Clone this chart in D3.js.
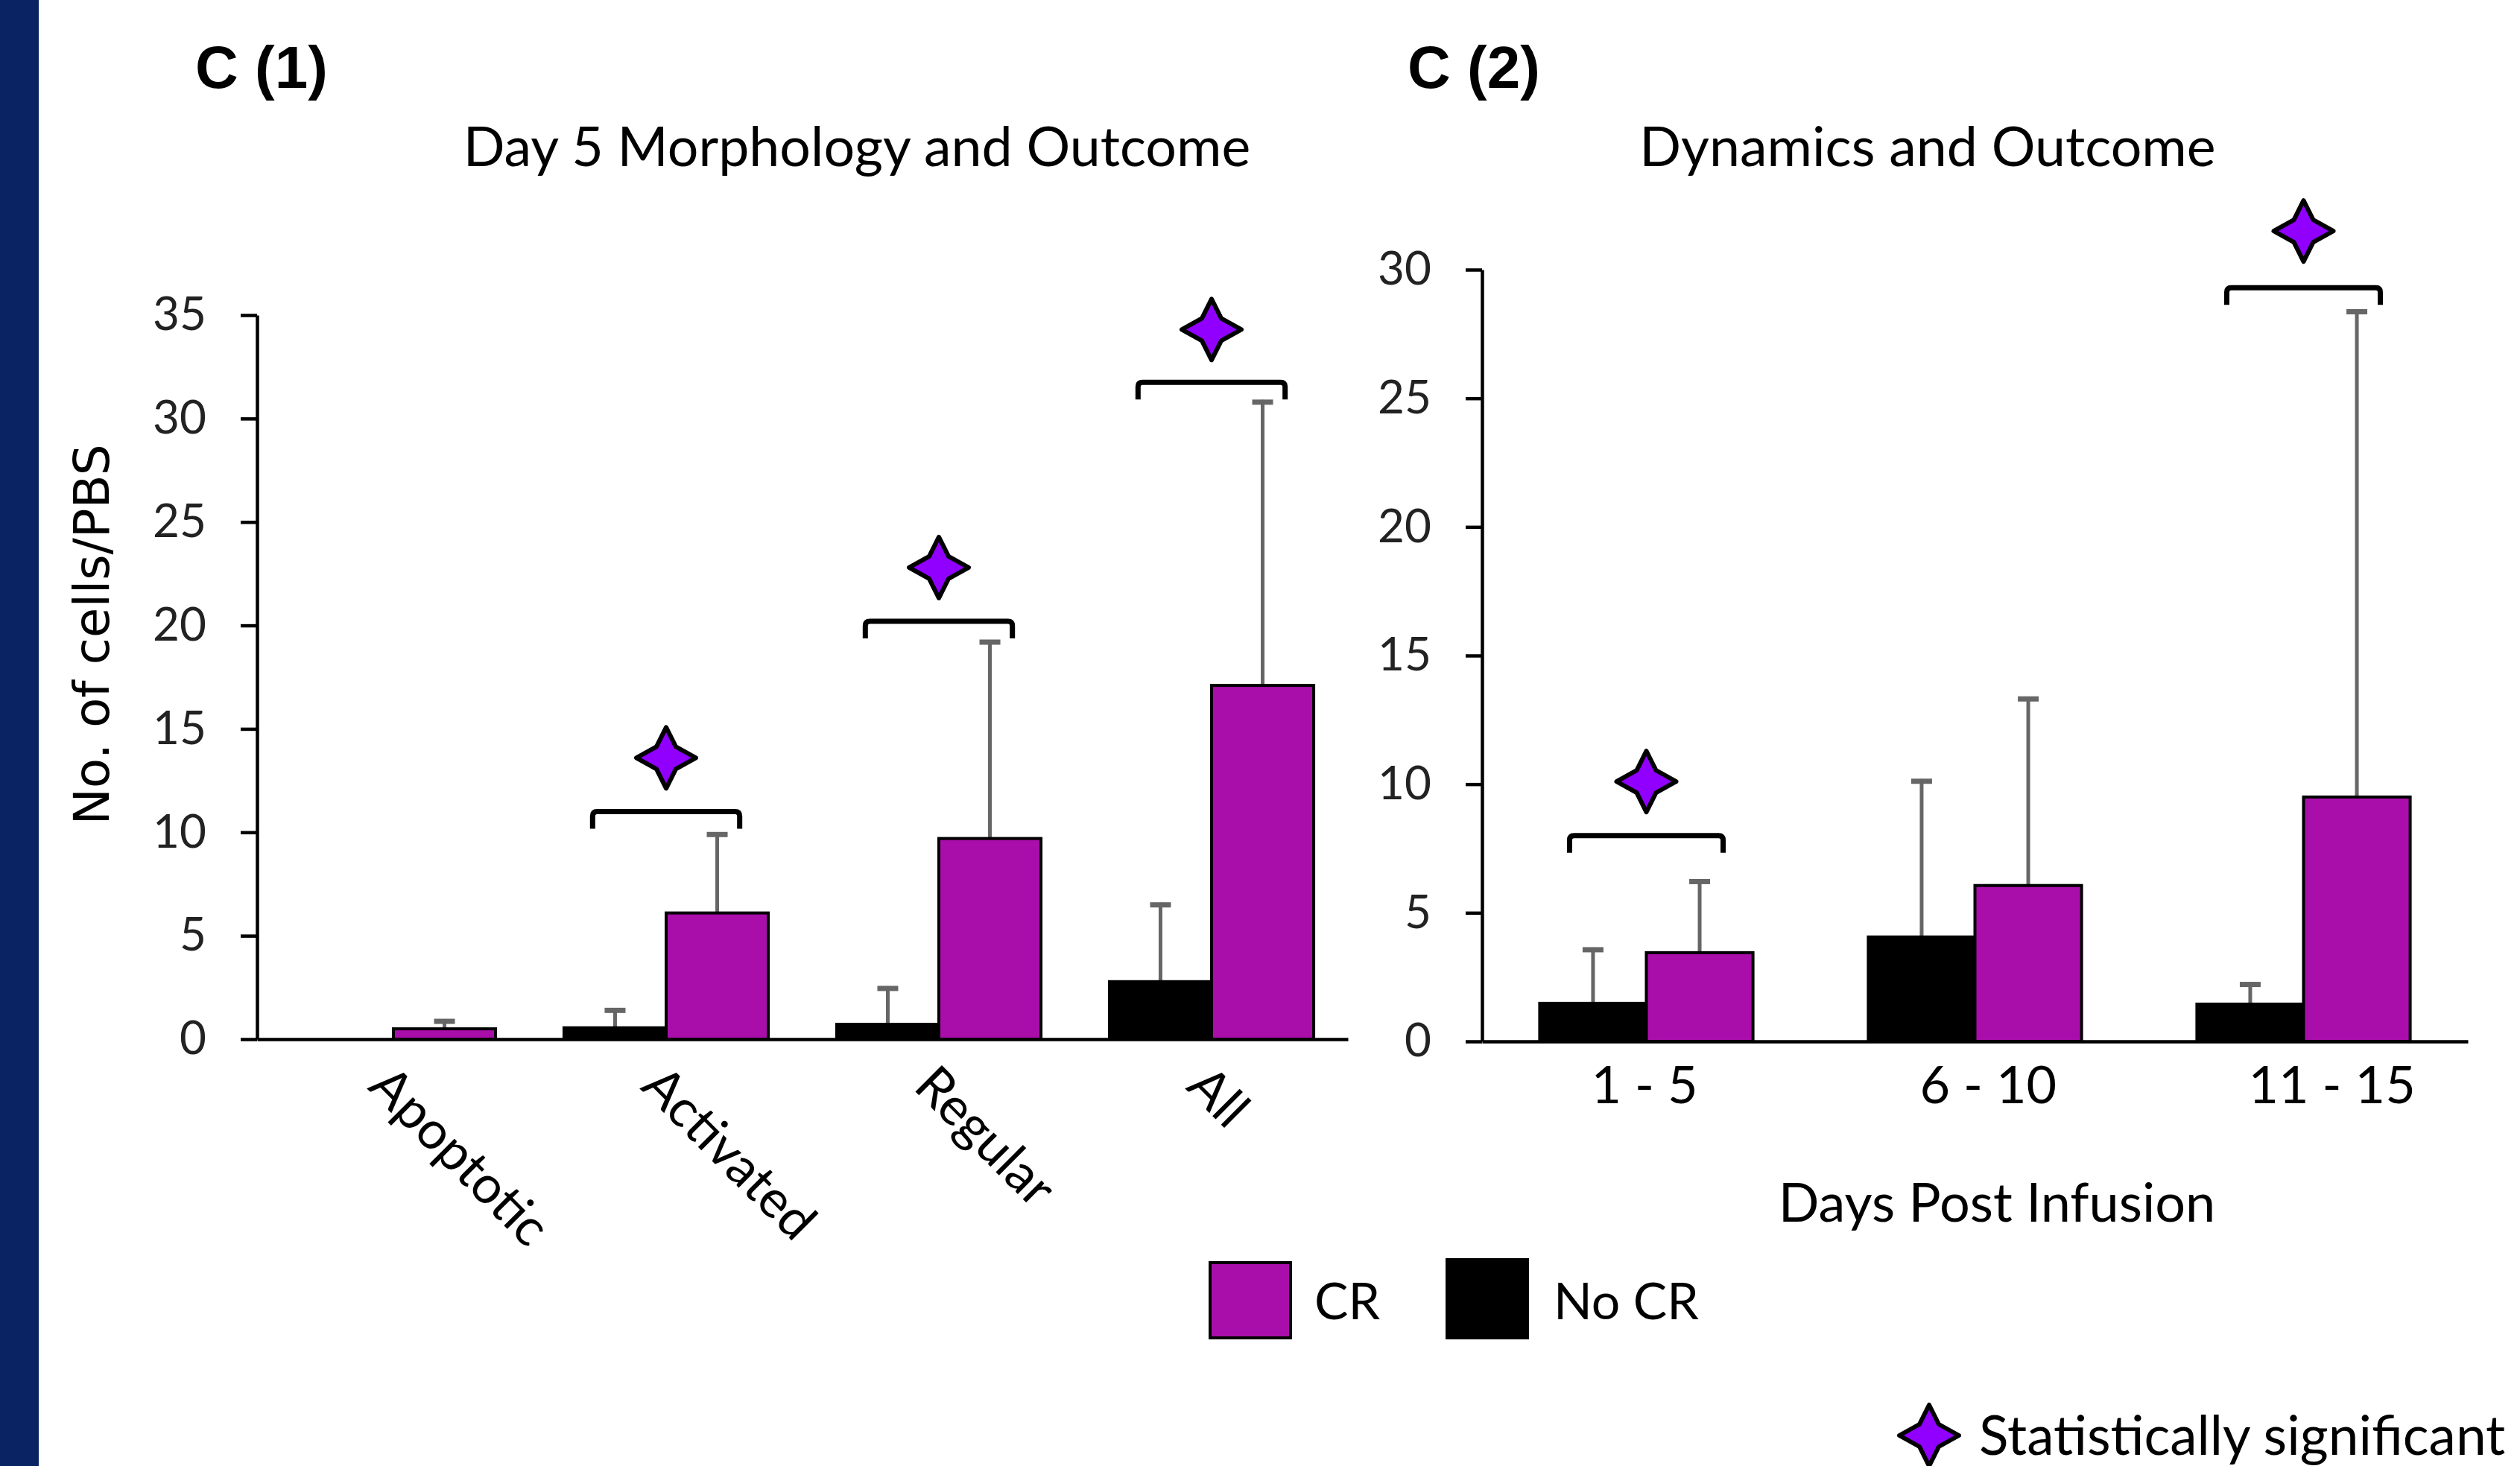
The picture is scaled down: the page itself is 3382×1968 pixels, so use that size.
<!DOCTYPE html>
<html><head><meta charset="utf-8">
<script src="https://cdn.jsdelivr.net/npm/d3@7"></script>
<style>html,body{margin:0;padding:0;background:#fff;} svg{display:block;}</style>
</head><body><svg id="chart" width="3382" height="1968"></svg>
<script>
// ---------- data ----------
const seriesNames = ["No CR", "CR"];

const morphCategories = ["Apoptotic", "Activated", "Regular", "All"];
const morphNoCR    = [0, 0.55, 0.72, 2.78];
const morphNoCRErr = [0, 0.95, 1.84, 3.82];
const morphCR      = [0.5, 6.1, 9.7, 17.1];
const morphCRErr   = [0.47, 3.9, 9.6, 13.8];
const morphYTicks  = [0, 5, 10, 15, 20, 25, 30, 35];
const morphSignificant = ["Activated", "Regular", "All"];
const morphBracketAt   = [11.0, 20.2, 31.75];
const morphStarAt      = [13.6, 22.8, 34.3];

const dynCategories = ["1 - 5", "6 - 10", "11 - 15"];
const dynNoCR    = [1.48, 4.06, 1.45];
const dynNoCRErr = [2.17, 6.14, 0.85];
const dynCR      = [3.45, 6.06, 9.5];
const dynCRErr   = [2.85, 7.34, 18.95];
const dynYTicks  = [0, 5, 10, 15, 20, 25, 30];
const dynSignificant = ["1 - 5", "11 - 15"];
const dynBracketAt   = [8.0, 29.3];
const dynStarAt      = [10.1, 31.5];

// ---------- style ----------
const COL = {"CR": "#AA0EAA", "No CR": "#000000"};
const STAR = "#9100FF";
const ERR = "#666666";
const FONT = "Lato, 'Open Sans', sans-serif";

const svg = d3.select("#chart");
svg.append("rect").attr("width", 3382).attr("height", 1968).attr("fill", "#fff");
svg.append("rect").attr("x", 0).attr("y", 0).attr("width", 52).attr("height", 1968).attr("fill", "#0A2463");

function starPath(cx, cy) {
  const o = 41, ox = 40, i = 13, iy = 15;
  const pts = [[0,-o],[i,-iy],[ox,0],[i,iy],[0,o],[-i,iy],[-ox,0],[-i,-iy]];
  return "M" + pts.map(p => [cx + p[0], cy + p[1]].join(",")).join("L") + "Z";
}

function drawPanel(cfg) {
  const g = svg.append("g");
  const x = d3.scaleBand().domain(cfg.categories).range([cfg.x0, cfg.x1])
    .paddingInner(cfg.padIn).paddingOuter(cfg.padOut);
  const xs = d3.scaleBand().domain(seriesNames).range([0, x.bandwidth()]);
  const y = d3.scaleLinear().domain([0, cfg.yMax]).range([cfg.y0, cfg.yTop]);

  const rows = [];
  cfg.categories.forEach((c, i) => {
    rows.push({cat: c, s: "No CR", v: cfg.noCR[i], e: cfg.noCRErr[i]});
    rows.push({cat: c, s: "CR", v: cfg.cr[i], e: cfg.crErr[i]});
  });

  // error bars (behind bars)
  const eb = g.append("g");
  rows.filter(d => d.e > 0).forEach(d => {
    const cx = x(d.cat) + xs(d.s) + xs.bandwidth() / 2;
    eb.append("line").attr("x1", cx).attr("x2", cx).attr("y1", y(d.v)).attr("y2", y(d.v + d.e))
      .attr("stroke", ERR).attr("stroke-width", 5);
    eb.append("line").attr("x1", cx - 14).attr("x2", cx + 14).attr("y1", y(d.v + d.e) + 3).attr("y2", y(d.v + d.e) + 3)
      .attr("stroke", ERR).attr("stroke-width", 7);
  });

  // bars
  g.append("g").selectAll("rect").data(rows.filter(d => d.v > 0)).join("rect")
    .attr("x", d => x(d.cat) + xs(d.s))
    .attr("y", d => y(d.v))
    .attr("width", xs.bandwidth())
    .attr("height", d => y(0) - y(d.v))
    .attr("fill", d => COL[d.s])
    .attr("stroke", "#000").attr("stroke-width", 4);

  // axes
  const ya = g.append("g").attr("transform", `translate(${cfg.x0},0)`)
    .call(d3.axisLeft(y).tickValues(cfg.yTicks).tickSize(22).tickSizeOuter(0).tickPadding(46));
  ya.select(".domain").attr("stroke", "#000").attr("stroke-width", 4.5);
  ya.selectAll(".tick line").attr("stroke", "#000").attr("stroke-width", 4.5);
  ya.selectAll(".tick text").attr("font-family", FONT).attr("font-size", 62).attr("fill", "#222");

  const xa = g.append("g").attr("transform", `translate(0,${cfg.y0})`)
    .call(d3.axisBottom(x).tickSize(0).tickSizeOuter(0).tickPadding(cfg.xPad));
  xa.select(".domain").attr("stroke", "#000").attr("stroke-width", 4.5);
  xa.selectAll(".tick text").attr("font-family", FONT).attr("font-size", cfg.xFont).attr("fill", "#000");
  if (cfg.rotate) {
    xa.selectAll(".tick text").attr("text-anchor", "start").attr("dy", 0).attr("y", 0)
      .attr("transform", `translate(${cfg.rotDx},${cfg.rotDy}) rotate(45)`);
  } else {
    xa.selectAll(".tick text").attr("text-anchor", "start").attr("x", cfg.xLabelDx);
  }

  // significance
  const sg = g.append("g");
  cfg.sig.forEach((c, i) => {
    const cx = x(c) + x.bandwidth() / 2;
    const half = x.bandwidth() * 0.36;
    const top = y(cfg.bracketAt[i]);
    const bot = top + 23, r = 6;
    sg.append("path")
      .attr("d", `M${cx - half},${bot}L${cx - half},${top + r}Q${cx - half},${top} ${cx - half + r},${top}` +
                 `L${cx + half - r},${top}Q${cx + half},${top} ${cx + half},${top + r}L${cx + half},${bot}`)
      .attr("fill", "none").attr("stroke", "#000").attr("stroke-width", 7);
    sg.append("path").attr("d", starPath(cx, y(cfg.starAt[i])))
      .attr("fill", STAR).attr("stroke", "#000").attr("stroke-width", 6).attr("stroke-linejoin", "round");
  });
}

drawPanel({
  categories: morphCategories, noCR: morphNoCR, noCRErr: morphNoCRErr, cr: morphCR, crErr: morphCRErr,
  yTicks: morphYTicks, yMax: 35, sig: morphSignificant, bracketAt: morphBracketAt, starAt: morphStarAt,
  x0: 345, x1: 1809, padIn: 0.251, padOut: 0.1255, y0: 1395, yTop: 423,
  xPad: 0, xFont: 70, rotate: true, rotDx: -36, rotDy: 66
});

drawPanel({
  categories: dynCategories, noCR: dynNoCR, noCRErr: dynNoCRErr, cr: dynCR, crErr: dynCRErr,
  yTicks: dynYTicks, yMax: 30, sig: dynSignificant, bracketAt: dynBracketAt, starAt: dynStarAt,
  x0: 1989, x1: 3312, padIn: 0.351, padOut: 0.1755, y0: 1398, yTop: 362,
  xPad: 33, xFont: 70, rotate: false, xLabelDx: -74
});

// ---------- texts ----------
svg.append("text").text("C (1)").attr("x", 262).attr("y", 118)
  .attr("font-family", "'Liberation Sans', Arial, sans-serif").attr("font-weight", "bold").attr("font-size", 80);
svg.append("text").text("C (2)").attr("x", 1889).attr("y", 118)
  .attr("font-family", "'Liberation Sans', Arial, sans-serif").attr("font-weight", "bold").attr("font-size", 80);

svg.append("text").text("Day 5 Morphology and Outcome").attr("x", 1150).attr("y", 223)
  .attr("text-anchor", "middle").attr("font-family", FONT).attr("font-size", 73.5);
svg.append("text").text("Dynamics and Outcome").attr("x", 2587).attr("y", 223)
  .attr("text-anchor", "middle").attr("font-family", FONT).attr("font-size", 73.5);

svg.append("text").text("No. of cells/PBS")
  .attr("transform", "translate(146,852) rotate(-90)")
  .attr("text-anchor", "middle").attr("font-family", "'DejaVu Sans', sans-serif").attr("font-size", 66);

svg.append("text").text("Days Post Infusion").attr("x", 2680).attr("y", 1640)
  .attr("text-anchor", "middle").attr("font-family", FONT).attr("font-size", 72);

// legend
const legendItems = [
  {name: "CR", rx: 1624, ry: 1695, rh: 101, tx: 1764},
  {name: "No CR", rx: 1942, ry: 1691, rh: 105, tx: 2085}
];
const lg = svg.append("g");
legendItems.forEach(d => {
  lg.append("rect").attr("x", d.rx).attr("y", d.ry).attr("width", 108).attr("height", d.rh)
    .attr("fill", COL[d.name]).attr("stroke", "#000").attr("stroke-width", 4);
  lg.append("text").text(d.name).attr("x", d.tx).attr("y", 1771)
    .attr("font-family", FONT).attr("font-size", 68);
});
lg.append("path").attr("d", starPath(2589, 1927)).attr("fill", STAR)
  .attr("stroke", "#000").attr("stroke-width", 6).attr("stroke-linejoin", "round");
lg.append("text").text("Statistically significant").attr("x", 2656).attr("y", 1953)
  .attr("font-family", FONT).attr("font-size", 73);
</script>
</body></html>
